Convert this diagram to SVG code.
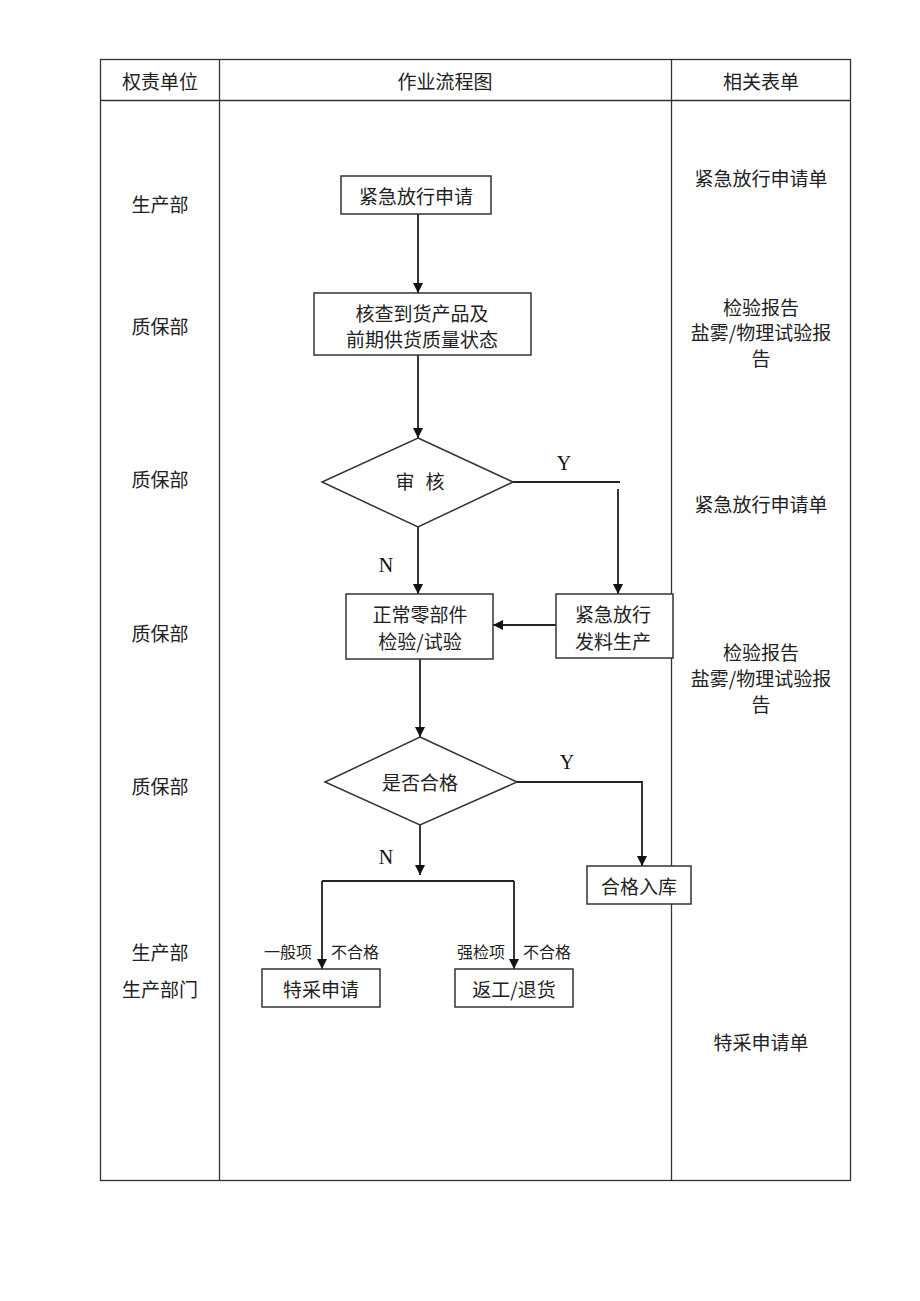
<svg xmlns="http://www.w3.org/2000/svg" width="920" height="1301" viewBox="0 0 920 1301">
<defs>
<marker id="ah" viewBox="0 0 10 10" refX="10" refY="5" markerWidth="10" markerHeight="10" markerUnits="userSpaceOnUse" orient="auto">
<path d="M0,0 L10,5 L0,10 Z" fill="#111"/>
</marker>
<style>
.t{font-family:"Noto Sans CJK SC","Noto Sans",sans-serif;font-size:19px;fill:#222;text-anchor:middle;dominant-baseline:central}
.s{font-family:"Noto Sans CJK SC","Noto Sans",sans-serif;font-size:16px;fill:#222;dominant-baseline:central}
.yn{font-family:"Liberation Serif","Noto Sans CJK SC",serif;font-size:20px;fill:#111;text-anchor:middle;dominant-baseline:central}
.grid{fill:none;stroke:#333;stroke-width:1.3}
.box{fill:#fff;stroke:#333;stroke-width:1.5}
.c{fill:none;stroke:#222;stroke-width:1.8}
.ca{fill:none;stroke:#222;stroke-width:1.8;marker-end:url(#ah)}
</style>
</defs>
<rect width="920" height="1301" fill="#fff"/>
<g id="table">
<rect class="grid" x="100.5" y="59.5" width="750" height="1121"/>
<line class="grid" x1="100" y1="100.5" x2="851" y2="100.5"/>
<line class="grid" x1="219.5" y1="59" x2="219.5" y2="1181"/>
<line class="grid" x1="671.5" y1="59" x2="671.5" y2="1181"/>
<text class="t" x="160" y="80">权责单位</text>
<text class="t" x="445" y="80">作业流程图</text>
<text class="t" x="761" y="80">相关表单</text>
</g>
<g id="dept">
<text class="t" x="160" y="203">生产部</text>
<text class="t" x="160" y="325">质保部</text>
<text class="t" x="160" y="478">质保部</text>
<text class="t" x="160" y="632">质保部</text>
<text class="t" x="160" y="785">质保部</text>
<text class="t" x="160" y="951">生产部</text>
<text class="t" x="160" y="988">生产部门</text>
</g>
<g id="forms">
<text class="t" x="761" y="177">紧急放行申请单</text>
<text class="t" x="761" y="306">检验报告</text>
<text class="t" x="761" y="331">盐雾/物理试验报</text>
<text class="t" x="761" y="357">告</text>
<text class="t" x="761" y="503">紧急放行申请单</text>
<text class="t" x="761" y="651">检验报告</text>
<text class="t" x="761" y="677">盐雾/物理试验报</text>
<text class="t" x="761" y="703">告</text>
<text class="t" x="761" y="1041">特采申请单</text>
</g>
<g id="connectors">
<line class="ca" x1="418" y1="214" x2="418" y2="293"/>
<line class="ca" x1="418" y1="355" x2="418" y2="438"/>
<polyline class="c" points="513,482 620,482"/>
<line class="ca" x1="618" y1="489" x2="618" y2="594"/>
<line class="ca" x1="418" y1="527" x2="418" y2="594"/>
<line class="ca" x1="556" y1="625" x2="493" y2="625"/>
<line class="ca" x1="420" y1="659" x2="420" y2="737"/>
<polyline class="ca" points="517,782 642,782 642,866"/>
<line class="ca" x1="420" y1="825" x2="420" y2="875"/>
<polyline class="c" points="322,881 514,881"/>
<line class="ca" x1="322" y1="881" x2="322" y2="969"/>
<line class="ca" x1="514" y1="881" x2="514" y2="969"/>
</g>
<g id="n1">
<rect class="box" x="341" y="176" width="150" height="38"/>
<text class="t" x="416" y="195">紧急放行申请</text>
</g>
<g id="n2">
<rect class="box" x="314" y="293" width="217" height="62"/>
<text class="t" x="422" y="312">核查到货产品及</text>
<text class="t" x="422" y="338">前期供货质量状态</text>
</g>
<g id="d1">
<polygon class="box" points="418,438 513,482 418,527 322,482"/>
<text class="t" x="405" y="480">审</text>
<text class="t" x="435" y="480">核</text>
<text class="yn" x="564" y="463">Y</text>
<text class="yn" x="386" y="565">N</text>
</g>
<g id="n3">
<rect class="box" x="556" y="594" width="117" height="64"/>
<text class="t" x="613" y="613">紧急放行</text>
<text class="t" x="613" y="640">发料生产</text>
</g>
<g id="n4">
<rect class="box" x="346" y="594" width="147" height="65"/>
<text class="t" x="420" y="613">正常零部件</text>
<text class="t" x="420" y="640">检验/试验</text>
</g>
<g id="d2">
<polygon class="box" points="420,737 517,782 420,825 325,782"/>
<text class="t" x="420" y="781">是否合格</text>
<text class="yn" x="567" y="762">Y</text>
<text class="yn" x="386" y="857">N</text>
</g>
<g id="n5">
<rect class="box" x="587" y="866" width="104" height="38"/>
<text class="t" x="639" y="885">合格入库</text>
</g>
<g id="n6">
<rect class="box" x="262" y="969" width="118" height="38"/>
<text class="t" x="321" y="988">特采申请</text>
<text class="s" x="312" y="951" text-anchor="end">一般项</text>
<text class="s" x="331" y="951">不合格</text>
</g>
<g id="n7">
<rect class="box" x="455" y="969" width="118" height="38"/>
<text class="t" x="514" y="988">返工/退货</text>
<text class="s" x="505" y="951" text-anchor="end">强检项</text>
<text class="s" x="523" y="951">不合格</text>
</g>
</svg>
